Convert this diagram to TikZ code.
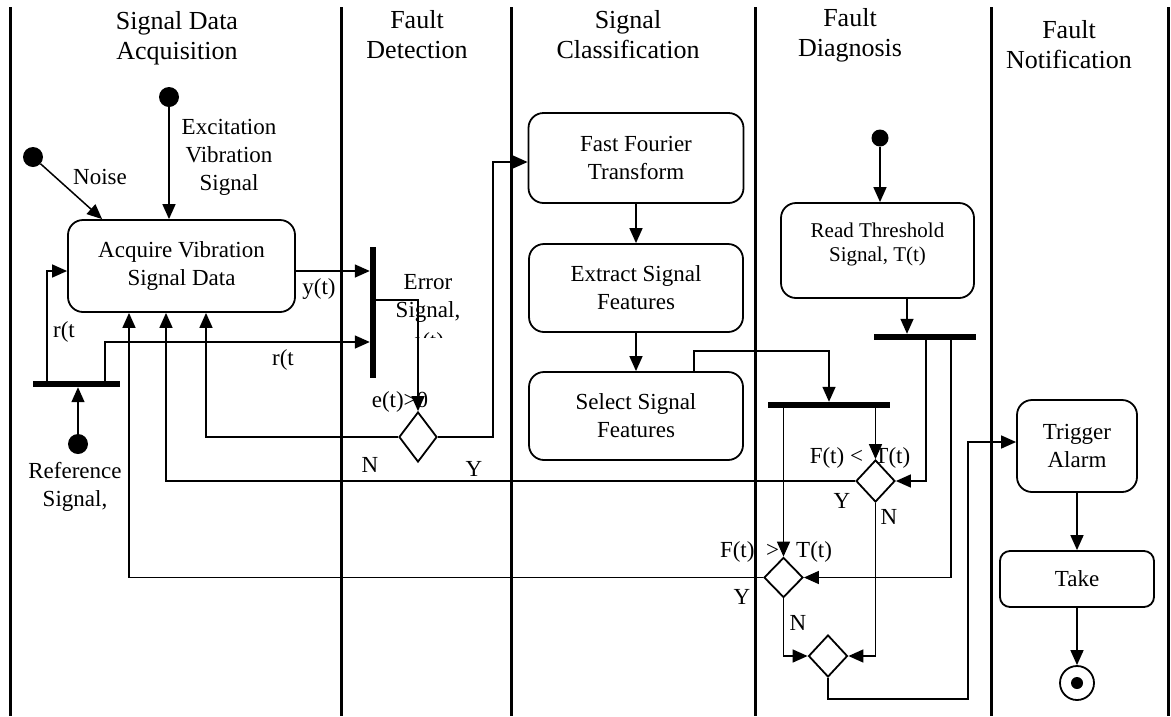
\documentclass[tikz,border=0pt]{standalone}
\usepackage{fontspec}
\setmainfont{Liberation Serif}
\usetikzlibrary{arrows.meta,shapes.geometric}
\begin{document}
\begin{tikzpicture}[x=1pt,y=-1pt,
  lane/.style={line width=3pt},
  arr/.style={line width=1.5pt,-{Triangle[length=15pt,width=13pt]}},
  act/.style={draw,line width=1.8pt,rounded corners=15pt,inner sep=0pt,align=center,font=\fontsize{23}{28}\selectfont},
  dec/.style={draw,diamond,line width=1.8pt,inner sep=0pt},
  bar/.style={fill=black,inner sep=0pt,draw=none},
  init/.style={circle,fill=black,inner sep=0pt,minimum size=20pt},
  lbl/.style={inner sep=0pt,align=center,font=\fontsize{23}{28}\selectfont},
  hdr/.style={inner sep=0pt,align=center,font=\fontsize{26}{30}\selectfont},
]
\useasboundingbox (0,0) rectangle (1171,716);
\fill[white] (0,0) rectangle (1171,716);

% swimlanes
\foreach \x in {10,341,511,755,991,1168} \draw[lane] (\x,7) -- (\x,716);

% headers
\node[hdr] (h1) at (177,38) {Signal Data\\Acquisition};
\node[hdr] (h2) at (417,35) {Fault\\Detection};
\node[hdr] (h3) at (628,35) {Signal\\Classification};
\node[hdr] (h4) at (850,35) {Fault\\Diagnosis};
\node[hdr] (h5) at (1069,45) {Fault\\Notification};

% activities
\node[act,minimum width=227pt,minimum height=92pt] (acq) at (181.5,266) {Acquire Vibration\\Signal Data};
\node[act,minimum width=215pt,minimum height=90pt] (fft) at (636,158) {Fast Fourier\\Transform};
\node[act,minimum width=214pt,minimum height=88pt] (ext) at (636,288) {Extract Signal\\Features};
\node[act,minimum width=214pt,minimum height=88pt] (sel) at (636,416) {Select Signal\\Features};
\node[act,minimum width=193pt,minimum height=95pt,font=\fontsize{21}{24}\selectfont] (read) at (877.5,250.5) {Read Threshold\\Signal, T(t)\\[-8pt]\mbox{}};
\node[act,minimum width=120pt,minimum height=92pt] (trig) at (1077,446) {Trigger\\Alarm};
\node[act,minimum width=154pt,minimum height=56pt,rounded corners=10pt] (take) at (1077,579) {Take};

% decisions
\node[dec,minimum width=38pt,minimum height=50pt] (d0) at (418,437) {};
\node[dec,minimum width=39pt,minimum height=42pt] (d1) at (875.5,481) {};
\node[dec,minimum width=39pt,minimum height=40pt] (d2) at (783.5,577.5) {};
\node[dec,minimum width=39pt,minimum height=42pt] (d3) at (828,656) {};

% bars
\node[bar,minimum width=87pt,minimum height=6pt] (fk0) at (76.5,384) {};
\node[bar,minimum width=6pt,minimum height=131pt] (jn0) at (373,312.5) {};
\node[bar,minimum width=122pt,minimum height=6pt] (fk1) at (829,405) {};
\node[bar,minimum width=102pt,minimum height=6pt] (fk2) at (925,337) {};

% initial / final
\node[init] (noise) at (33,157) {};
\node[init] (exc) at (169,97) {};
\node[init] (ref) at (78,444) {};
\node[init,minimum size=17pt] (thr) at (880,138) {};
\node[circle,draw,line width=1.8pt,minimum size=34pt,inner sep=0pt] (fin) at (1077,683) {};
\node[circle,fill=black,minimum size=12pt,inner sep=0pt] (fin0) at (fin.center) {};

% labels
\node[lbl] (lnoise) at (100,177) {Noise};
\node[lbl] (lexc) at (229,157) {Excitation\\Vibration\\Signal};
\node[lbl] (lref) at (75,487) {Reference\\Signal,};
\node[lbl] (lr1) at (64,332) {r(t};
\node[lbl] (lr2) at (283,360) {r(t};
\node[lbl] (ly) at (319,289) {y(t)};
\node[lbl] (lerr) at (428,298) {Error\\Signal,};
\begin{scope}
  \clip (380,300) rectangle (480,337.5);
  \node[lbl,anchor=base] (lerr3) at (428,348) {e(t)};
\end{scope}
\node[lbl] (le) at (400,402) {e(t)>0};
\node[lbl] (lN0) at (370,465) {N};
\node[lbl] (lY0) at (474,469) {Y};
\node[lbl] (lc1) at (860,458) {F(t) <\ \ T(t)};
\node[lbl] (lY1) at (842,501) {Y};
\node[lbl] (lN1) at (889,517) {N};
\node[lbl] (lc2) at (776,552) {F(t)\ \ >\ \ \ T(t)};
\node[lbl] (lY2) at (742,597) {Y};
\node[lbl] (lN2) at (798,623) {N};

% connectors
\draw[arr] (noise) -- ([xshift=35pt]acq.north west);
\draw[arr] (exc) -- (exc |- acq.north);
\draw[arr] (ref) -- (ref |- fk0.south);
\draw[arr] ([xshift=-29.5pt]fk0.north) |- ([yshift=-5pt]acq.west);
\draw[arr] ([xshift=28.5pt]fk0.north) |- (jn0.west |- 0,342);
\draw[arr] (acq.east |- 0,271) -- (jn0.west |- 0,271);
\draw[arr] (jn0.east |- 0,300) -| (d0.north);
\draw[arr] (d0.west) -| (acq.south -| 206,0);
\draw[arr] (d0.east) -- (d0.east -| 493,0) |- ([yshift=-4pt]fft.west);
\draw[arr] (fft.south) -- (ext.north);
\draw[arr] (ext.south) -- (sel.north);
\draw[arr] ([xshift=58pt]sel.north) -- ++(0,-20) -| (fk1.north);
\draw[arr] (d2.north |- fk1.south) -- (d2.north);
\draw[arr] (d1.north |- fk1.south) -- (d1.north);
\draw[arr] (thr) -- (thr |- read.north);
\draw[arr] (read.south -| 907,0) -- (fk2.north -| 907,0);
\draw[arr] (fk2.south -| 926,0) |- (d1.east);
\draw[arr] (fk2.south -| 951,0) |- (d2.east);
\draw[arr] (d1.west) -| (acq.south -| 166,0);
\draw[arr] (d2.west) -| (acq.south -| 129,0);
\draw[arr] (d1.south) |- (d3.east);
\draw[arr] (d2.south) |- (d3.west);
\draw[arr] (d3.south) |- (968,699) |- ([yshift=4pt]trig.west);
\draw[arr] (trig.south) -- (take.north);
\draw[arr] (take.south) -- (fin.north);
\end{tikzpicture}
\end{document}
